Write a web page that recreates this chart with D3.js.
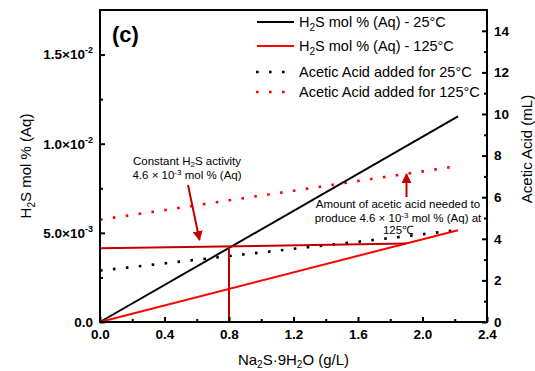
<!DOCTYPE html>
<html><head><meta charset="utf-8">
<script src="https://cdn.jsdelivr.net/npm/d3@7"></script>
<style>
body{margin:0;background:#fff;}
svg{display:block;font-family:"Liberation Sans",Arial,sans-serif;}
</style></head>
<body><svg id="c" width="535" height="371"></svg>
<script>
// ---- data ----
const xTicks = [0, 0.4, 0.8, 1.2, 1.6, 2.0, 2.4];
const xMinor = [0.2, 0.6, 1.0, 1.4, 1.8, 2.2];
const yLeftTicks = [0, 0.005, 0.01, 0.015];
const yLeftLabels = [["0.0", ""], ["5.0×10", "-3"], ["1.0×10", "-2"], ["1.5×10", "-2"]];
const yLeftMinor = [0.0025, 0.0075, 0.0125];
const yRightTicks = [0, 2, 4, 6, 8, 10, 12, 14];
const yRightMinor = [1, 3, 5, 7, 9, 11, 13];

const h2sX = [0, 2.22];
const h2s25 = [0, 0.01153];
const h2s125 = [0, 0.00515];
const constX = [0, 1.9];
const constY = [0.00413, 0.0044];
const vertX = [0.8, 0.8];
const vertY = [0, 0.00424];
const acidX = [0, 0.4, 0.8, 1.2, 1.6, 2.0, 2.22];
const acid25 = [2.47, 2.82, 3.17, 3.52, 3.86, 4.22, 4.42];
const acid125 = [4.92, 5.38, 5.85, 6.31, 6.78, 7.24, 7.50];

const legendItems = [
  {label: ["H", "2", "S mol % (Aq) - 25°C"], color: "#000", dotted: false},
  {label: ["H", "2", "S mol % (Aq) - 125°C"], color: "#ff0000", dotted: false},
  {label: ["Acetic Acid added for 25°C"], color: "#000", dotted: true},
  {label: ["Acetic Acid added for 125°C"], color: "#ff0000", dotted: true}
];

// ---- layout ----
const L = 100, R = 487, T = 10, B = 322;
const svg = d3.select("#c");
const x = d3.scaleLinear().domain([0, 2.4]).range([L, R]);
const yL = d3.scaleLinear().domain([0, 0.0175]).range([B, T]);
const yR = d3.scaleLinear().domain([0, 15]).range([B, T]);
const DARK = "#c00000";
const dotDash = "2.6,10.4";

svg.append("defs").append("marker")
  .attr("id", "arr").attr("viewBox", "0 0 10 10").attr("refX", 9).attr("refY", 5)
  .attr("markerWidth", 5).attr("markerHeight", 5).attr("orient", "auto")
  .append("path").attr("d", "M0,0 L10,5 L0,10 Z").attr("fill", DARK);

const g = svg.append("g");

const lineL = d3.line().x(d => x(d[0])).y(d => yL(d[1]));
const lineR = d3.line().x(d => x(d[0])).y(d => yR(d[1]));
const zip = (a, b) => a.map((v, i) => [v, b[i]]);

g.append("path").attr("d", lineR(zip(acidX, acid125))).attr("fill", "none")
  .attr("stroke", "#ff0000").attr("stroke-width", 2.6).attr("stroke-dasharray", dotDash);
g.append("path").attr("d", lineR(zip(acidX, acid25))).attr("fill", "none")
  .attr("stroke", "#000").attr("stroke-width", 2.6).attr("stroke-dasharray", dotDash);

g.append("path").attr("d", lineL(zip(h2sX, h2s25))).attr("fill", "none")
  .attr("stroke", "#000").attr("stroke-width", 2);
g.append("path").attr("d", lineL(zip(h2sX, h2s125))).attr("fill", "none")
  .attr("stroke", "#ff0000").attr("stroke-width", 2);
g.append("path").attr("d", lineL(zip(constX, constY))).attr("fill", "none")
  .attr("stroke", DARK).attr("stroke-width", 2);
g.append("path").attr("d", lineL(zip(vertX, vertY))).attr("fill", "none")
  .attr("stroke", DARK).attr("stroke-width", 2);

const fs = 13.5;
g.append("g").attr("transform", `translate(0,${B})`)
  .call(d3.axisBottom(x).tickValues(xTicks).tickSize(-5).tickPadding(7).tickFormat(d3.format(".1f")));
g.append("g").attr("transform", `translate(0,${B})`)
  .call(d3.axisBottom(x).tickValues(xMinor).tickSize(-3).tickFormat(""));
const al = g.append("g").attr("transform", `translate(${L},0)`)
  .call(d3.axisLeft(yL).tickValues(yLeftTicks).tickSize(-5).tickPadding(7).tickFormat(""));
g.append("g").attr("transform", `translate(${L},0)`)
  .call(d3.axisLeft(yL).tickValues(yLeftMinor).tickSize(-3).tickFormat(""));
al.selectAll(".tick text").each(function(d, i) {
  const t = d3.select(this);
  const lab = yLeftLabels[i];
  t.append("tspan").text(lab[0]);
  if (lab[1]) t.append("tspan").attr("dy", -6).attr("font-size", 9).text(lab[1]);
});
al.selectAll(".tick text").attr("dy", "0.32em").attr("x", -7);
g.append("g").attr("transform", `translate(${R},0)`)
  .call(d3.axisRight(yR).tickValues(yRightTicks).tickSize(-5).tickPadding(7));
g.append("g").attr("transform", `translate(${R},0)`)
  .call(d3.axisRight(yR).tickValues(yRightMinor).tickSize(-3).tickFormat(""));
g.selectAll(".domain").remove();
g.selectAll(".tick line").attr("stroke", "#000").attr("stroke-width", 2);
g.selectAll(".tick text").attr("font-size", fs).attr("font-weight", "bold")
  .attr("font-family", "Liberation Sans, Arial, sans-serif").attr("fill", "#000");

g.append("rect").attr("x", L).attr("y", T).attr("width", R - L).attr("height", B - T)
  .attr("fill", "none").attr("stroke", "#000").attr("stroke-width", 2);

const xt = svg.append("text").attr("x", (L + R) / 2).attr("y", 365).attr("text-anchor", "middle")
  .attr("font-size", 15);
xt.append("tspan").text("Na");
xt.append("tspan").attr("dy", 3).attr("font-size", 10).text("2");
xt.append("tspan").attr("dy", -3).text("S·9H");
xt.append("tspan").attr("dy", 3).attr("font-size", 10).text("2");
xt.append("tspan").attr("dy", -3).text("O (g/L)");

const ylt = svg.append("text").attr("transform", "translate(31,166) rotate(-90)")
  .attr("text-anchor", "middle").attr("font-size", 15);
ylt.append("tspan").text("H");
ylt.append("tspan").attr("dy", 4).attr("font-size", 10).text("2");
ylt.append("tspan").attr("dy", -4).text("S mol % (Aq)");

svg.append("text").attr("transform", "translate(532,149) rotate(-90)")
  .attr("text-anchor", "middle").attr("font-size", 15).text("Acetic Acid (mL)");

svg.append("text").attr("x", 112).attr("y", 42).attr("font-size", 22).attr("font-weight", "bold").text("(c)");

const legY = [22, 46, 72, 92];
legendItems.forEach((it, i) => {
  const yy = legY[i];
  svg.append("line").attr("x1", it.dotted ? 256 : 257).attr("x2", 294).attr("y1", yy).attr("y2", yy)
    .attr("stroke", it.color).attr("stroke-width", it.dotted ? 2.6 : 2)
    .attr("stroke-dasharray", it.dotted ? dotDash : null);
  const t = svg.append("text").attr("x", 299).attr("y", yy + 5).attr("font-size", 14.5);
  if (it.label.length === 3) {
    t.append("tspan").text(it.label[0]);
    t.append("tspan").attr("dy", 4).attr("font-size", 10).text(it.label[1]);
    t.append("tspan").attr("dy", -4).text(it.label[2]);
  } else t.text(it.label[0]);
});

const a1 = svg.append("text").attr("x", 187).attr("y", 164.5).attr("text-anchor", "middle").attr("font-size", 11.5);
a1.append("tspan").text("Constant H");
a1.append("tspan").attr("dy", 2).attr("font-size", 8).text("2");
a1.append("tspan").attr("dy", -2).text("S activity");
const a1b = svg.append("text").attr("x", 187).attr("y", 178.5).attr("text-anchor", "middle").attr("font-size", 11.5);
a1b.append("tspan").text("4.6 × 10");
a1b.append("tspan").attr("dy", -3.5).attr("font-size", 8).text("-3");
a1b.append("tspan").attr("dy", 3.5).text(" mol % (Aq)");
svg.append("line").attr("x1", 188).attr("y1", 185).attr("x2", 199.5).attr("y2", 240)
  .attr("stroke", DARK).attr("stroke-width", 2).attr("marker-end", "url(#arr)");

svg.append("text").attr("x", 398).attr("y", 207.5).attr("text-anchor", "middle").attr("font-size", 11.5)
  .text("Amount of acetic acid needed to");
const a2b = svg.append("text").attr("x", 398).attr("y", 221.5).attr("text-anchor", "middle").attr("font-size", 11.5);
a2b.append("tspan").text("produce 4.6 × 10");
a2b.append("tspan").attr("dy", -3.5).attr("font-size", 8).text("-3");
a2b.append("tspan").attr("dy", 3.5).text(" mol % (Aq) at");
svg.append("text").attr("x", 398).attr("y", 234).attr("text-anchor", "middle").attr("font-size", 11.5).text("125℃");
svg.append("line").attr("x1", 406.5).attr("y1", 197).attr("x2", 406.5).attr("y2", 174)
  .attr("stroke", DARK).attr("stroke-width", 2).attr("marker-end", "url(#arr)");
</script></body></html>
